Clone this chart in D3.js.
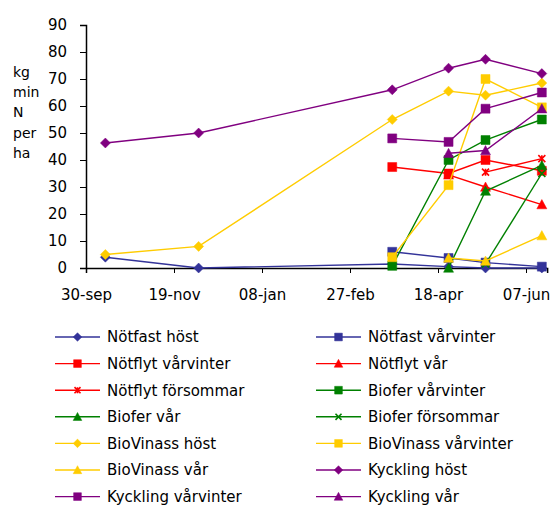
<!DOCTYPE html>
<html>
<head>
<meta charset="utf-8">
<script src="https://cdn.jsdelivr.net/npm/d3@7"></script>
<style>
  html, body { margin: 0; padding: 0; background: #fff; }
  svg text { font-family: "DejaVu Sans", sans-serif; fill: #000; }
</style>
</head>
<body>
<svg id="chart" width="550" height="509"></svg>
<script>
// ---- data ----
const sampleDates = ["2002-10-11", "2002-12-03", "2003-03-23", "2003-04-24", "2003-05-15", "2003-06-16"];
const tickDates = ["2002-09-30", "2002-11-19", "2003-01-08", "2003-02-27", "2003-04-18", "2003-06-07"];
const tickLabels = ["30-sep", "19-nov", "08-jan", "27-feb", "18-apr", "07-jun"];
const yTicks = [0, 10, 20, 30, 40, 50, 60, 70, 80, 90];
const yTitleLines = ["kg", "min", "N", "per", "ha"];

const seriesNames = [
  "Nötfast höst", "Nötfast vårvinter",
  "Nötflyt vårvinter", "Nötflyt vår",
  "Nötflyt försommar", "Biofer vårvinter",
  "Biofer vår", "Biofer försommar",
  "BioVinass höst", "BioVinass vårvinter",
  "BioVinass vår", "Kyckling höst",
  "Kyckling vårvinter", "Kyckling vår"
];
const seriesColors = [
  "#333399", "#333399",
  "#ff0000", "#ff0000",
  "#ff0000", "#008000",
  "#008000", "#008000",
  "#ffcc00", "#ffcc00",
  "#ffcc00", "#800080",
  "#800080", "#800080"
];
const seriesMarkers = [
  "diamond", "square",
  "square", "triangle",
  "asterisk", "square",
  "triangle", "x",
  "diamond", "square",
  "triangle", "diamond",
  "square", "triangle"
];
const nötfastHöst        = [4, 0, 1.5, 0.5, 0, 0];
const nötfastVårvinter   = [null, null, 6, 3.7, 2, 0.5];
const nötflytVårvinter   = [null, null, 37.4, 35, 40, 36];
const nötflytVår         = [null, null, null, 34.5, 30, 23.5];
const nötflytFörsommar   = [null, null, null, null, 35.5, 40.5];
const bioferVårvinter    = [null, null, 0.8, 40, 47.4, 55];
const bioferVår          = [null, null, null, 0, 28.5, 38];
const bioferFörsommar    = [null, null, null, null, 1.5, 35];
const bioVinassHöst      = [5, 8, 55, 65.5, 64, 68.5];
const bioVinassVårvinter = [null, null, 4, 30.7, 70, 59.5];
const bioVinassVår       = [null, null, null, 3.7, 2.6, 12];
const kycklingHöst       = [46.3, 50, 66, 74, 77.3, 72];
const kycklingVårvinter  = [null, null, 48, 46.7, 59, 65];
const kycklingVår        = [null, null, null, 42.5, 43.5, 59];

const seriesValues = [
  nötfastHöst, nötfastVårvinter, nötflytVårvinter, nötflytVår, nötflytFörsommar,
  bioferVårvinter, bioferVår, bioferFörsommar, bioVinassHöst, bioVinassVårvinter,
  bioVinassVår, kycklingHöst, kycklingVårvinter, kycklingVår
];

// ---- layout ----
const parse = d3.utcParse("%Y-%m-%d");
const svg = d3.select("#chart");
const x0 = 86, xEndDays = 262, pxPerDay = 1.76;
const x = d3.scaleUtc()
  .domain([parse("2002-09-30"), d3.utcDay.offset(parse("2002-09-30"), xEndDays)])
  .range([x0, x0 + xEndDays * pxPerDay]);
const y = d3.scaleLinear().domain([0, 90]).range([268, 25]);

// y axis
const yAxis = svg.append("g")
  .attr("transform", `translate(${x0},0)`)
  .call(d3.axisLeft(y).tickValues(yTicks).tickSize(6).tickPadding(13).tickFormat(d3.format("d")));
yAxis.selectAll("text").style("font-size", "15px");
yAxis.select(".domain").attr("stroke", "#000").attr("stroke-width", 1.5);
yAxis.selectAll(".tick line").attr("stroke", "#000");

// x axis
const xAxis = svg.append("g")
  .attr("transform", `translate(0,${y(0)})`)
  .call(d3.axisBottom(x).tickValues(tickDates.map(parse)).tickSize(5).tickPadding(16)
    .tickFormat((d, i) => tickLabels[i]));
xAxis.selectAll("text").style("font-size", "15px");
xAxis.select(".domain").attr("stroke", "#000").attr("stroke-width", 1.5);
xAxis.selectAll(".tick line").attr("stroke", "#000");

// y title
svg.append("g").selectAll("text").data(yTitleLines).join("text")
  .attr("x", 13).attr("y", (d, i) => 76.5 + i * 20.4)
  .style("font-size", "14px")
  .text(d => d);

// markers
function markerPath(type, r) {
  switch (type) {
    case "diamond": return `M0,${-r}L${r},0L0,${r}L${-r},0Z`;
    case "square": return `M${-r},${-r}H${r}V${r}H${-r}Z`;
    case "triangle": return `M0,${-r}L${r},${r * 0.85}L${-r},${r * 0.85}Z`;
    case "x": return `M${-r},${-r}L${r},${r}M${r},${-r}L${-r},${r}`;
    case "asterisk": return `M${-r},${-r}L${r},${r}M${r},${-r}L${-r},${r}M0,${-r}V${r}`;
  }
}
function markerSize(type, base) {
  if (type === "square") return base * 0.9;
  if (type === "x" || type === "asterisk") return base * 0.7;
  return base;
}
function drawMarker(g, type, color, r) {
  const stroked = type === "x" || type === "asterisk";
  g.append("path").attr("d", markerPath(type, r))
    .attr("fill", stroked ? "none" : color)
    .attr("stroke", color)
    .attr("stroke-width", stroked ? 1.6 : 0.5);
}

const plot = svg.append("g");
const line = d3.line().defined(d => d.v != null).x(d => x(d.t)).y(d => y(d.v));
seriesNames.forEach((name, i) => {
  const pts = seriesValues[i].map((v, j) => ({ t: parse(sampleDates[j]), v }));
  const g = plot.append("g");
  g.append("path").datum(pts).attr("d", line)
    .attr("fill", "none").attr("stroke", seriesColors[i]).attr("stroke-width", 1.4);
  pts.filter(p => p.v != null).forEach(p => {
    const m = g.append("g").attr("transform", `translate(${x(p.t)},${y(p.v)})`);
    drawMarker(m, seriesMarkers[i], seriesColors[i], markerSize(seriesMarkers[i], 5));
  });
});

// legend
const legend = svg.append("g");
seriesNames.forEach((name, i) => {
  const col = i % 2, row = Math.floor(i / 2);
  const lx = col === 0 ? 55 : 316;
  const ly = 337 + row * 26.6;
  const g = legend.append("g").attr("transform", `translate(${lx},${ly})`);
  g.append("line").attr("x1", 0).attr("x2", 45).attr("y1", 0).attr("y2", 0)
    .attr("stroke", seriesColors[i]).attr("stroke-width", 1.4);
  const m = g.append("g").attr("transform", "translate(22.5,0)");
  drawMarker(m, seriesMarkers[i], seriesColors[i], markerSize(seriesMarkers[i], 4.3));
  g.append("text").attr("x", 52).attr("y", 0).attr("dy", "0.36em")
    .style("font-size", "15px").text(name);
});
</script>
</body>
</html>
